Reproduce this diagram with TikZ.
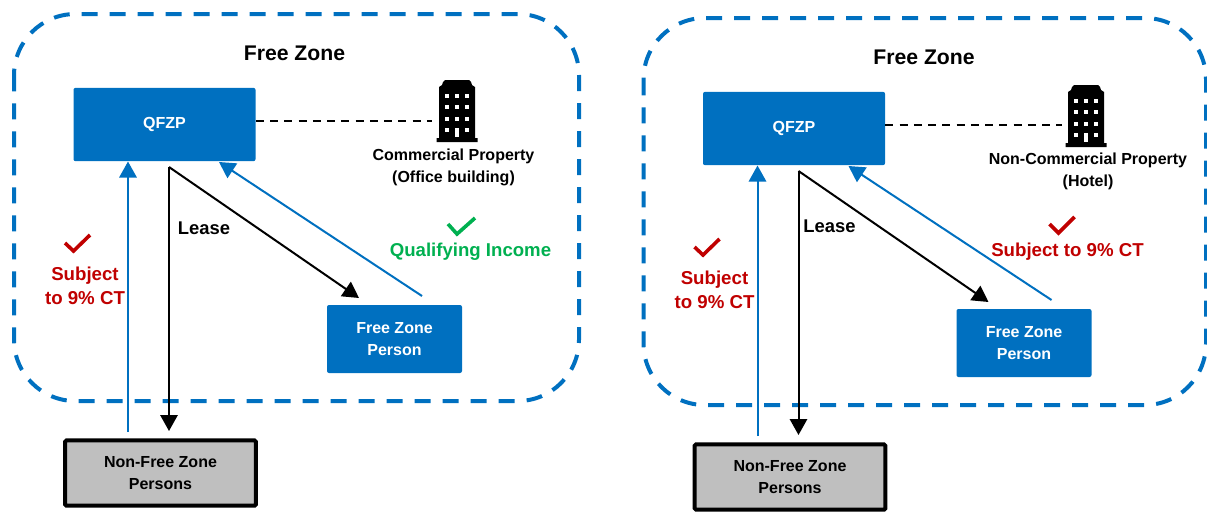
\documentclass[tikz,border=0pt]{standalone}
\usepackage{fontspec}
\setmainfont{Liberation Sans}
\usetikzlibrary{arrows.meta}
\definecolor{zblue}{HTML}{0070C0}
\definecolor{zred}{HTML}{C00000}
\definecolor{zgreen}{HTML}{00B050}
\definecolor{zgray}{HTML}{BFBFBF}
\tikzset{
 zoneframe/.style={draw=zblue,line width=3pt,dash pattern=on 12pt off 9pt,rounded corners=46pt},
 bluebox/.style={fill=zblue,draw=none,rounded corners=1.5pt,text=white,font=\fontsize{12}{16}\bfseries\selectfont,align=center,inner sep=0pt},
 graybox/.style={fill=zgray,draw=black,line width=3pt,rounded corners=1pt,font=\fontsize{12}{16}\bfseries\selectfont,align=center,inner sep=0pt},
 title/.style={font=\fontsize{15.9}{18}\bfseries\selectfont},
 lbl/.style={font=\fontsize{12}{16}\bfseries\selectfont,align=center},
 lease/.style={font=\fontsize{13.8}{16}\bfseries\selectfont},
 redlbl/.style={font=\fontsize{14}{18}\bfseries\selectfont,align=center,text=zred},
 greenlbl/.style={font=\fontsize{13.95}{18}\bfseries\selectfont,text=zgreen},
 bluearrow/.style={draw=zblue,line width=1.5pt,-{Triangle[length=12pt,width=13pt]}},
 blackarrow/.style={draw=black,line width=1.5pt,-{Triangle[length=12pt,width=13pt]}},
 dashlink/.style={draw=black,line width=1.3pt,dash pattern=on 6pt off 4.7pt},
 tick/.style={line width=2.7pt,line cap=butt}
}
\newcommand{\buildingicon}{%
 \fill[black] (-20.5,62) -- (20.5,62) -- (20.5,58) -- (18,58) -- (18,7) -- (15,5) -- (14,2) -- (12,0) -- (-12,0) -- (-14,2) -- (-15,5) -- (-18,7) -- (-18,58) -- (-20.5,58) -- cycle;
 \foreach \cx in {-10,0,10}{\foreach \cy in {16,27,39}{\fill[white] (\cx-2.3,\cy-2.3) rectangle (\cx+2.3,\cy+2.3);}}
 \fill[white] (-12.3,47.7) rectangle (-7.7,52.3);
 \fill[white] (7.7,47.7) rectangle (12.3,52.3);
 \fill[white] (-2.3,47.5) rectangle (2.3,57);
}
\newcommand{\zonepanel}[1]{%
 \node[title] (title#1) at (294.5,53) {Free Zone};
 \node[bluebox,minimum width=136.5pt,minimum height=55pt] (qfzp#1) at (164.5,124.5) {QFZP};
 \node[bluebox,minimum width=101.25pt,minimum height=51pt] (fzp#1) at (394.5,339) {\raisebox{-.75pt}{Free Zone}\\\raisebox{-.75pt}{Person}};
 \node[graybox,minimum width=143pt,minimum height=49pt] (nfz#1) at (160.5,473) {Non-Free Zone\\Persons};
 \coordinate (a#1) at (128,432);
 \coordinate (b#1) at (128,161.5);
 \coordinate (c#1) at (169,167);
 \coordinate (d#1) at (169,431);
 \coordinate (e#1) at (359,298);
 \coordinate (f#1) at (422,296);
 \coordinate (g#1) at (219,162);
 \draw[bluearrow] (a#1) -- (b#1);
 \draw[blackarrow] (c#1) -- (d#1);
 \draw[blackarrow] (c#1) -- (e#1);
 \draw[bluearrow] (f#1) -- (g#1);
 \coordinate (dashend#1) at (432,121);
 \draw[dashlink] (qfzp#1.east |- dashend#1) -- (dashend#1);
 \node[redlbl] (ct#1) at (85,285.5) {Subject\\to 9\% CT};
 \draw[tick,draw=zred] (65,243) -- (73.5,251) -- (90,235);
}
\begin{document}
\begin{tikzpicture}[x=0.75pt,y=-0.75pt]
\useasboundingbox (0,0) rectangle (1207,511);
% left panel
\begin{scope}
 \draw[zoneframe] (14,14) rectangle (579,401);
 \zonepanel{L}
 \begin{scope}[shift={(457,80)}]\buildingicon\end{scope}
 \node[lease] (leaseL) at (204,228) {Lease};
 \node[lbl] (propL) at (453.5,167.5) {Commercial Property\\(Office building)};
 \node[greenlbl] (qiL) at (470.5,252) {Qualifying Income};
 \draw[tick,draw=zgreen] (448,224) -- (457,234) -- (475,218);
\end{scope}
% right panel
\begin{scope}[shift={(629.5,4)}]
 \draw[zoneframe] (14,14) rectangle (576.5,401);
 \zonepanel{R}
 \begin{scope}[shift={(456.5,81)}]\buildingicon\end{scope}
 \node[lease] (leaseR) at (200,222) {Lease};
 \node[lbl] (propR) at (458.5,167.5) {Non-Commercial Property\\(Hotel)};
 \node[redlbl] (qiR) at (438,248) {Subject to 9\% CT};
 \draw[tick,draw=zred] (420,220) -- (429,229) -- (445,213);
\end{scope}
\end{tikzpicture}
\end{document}
